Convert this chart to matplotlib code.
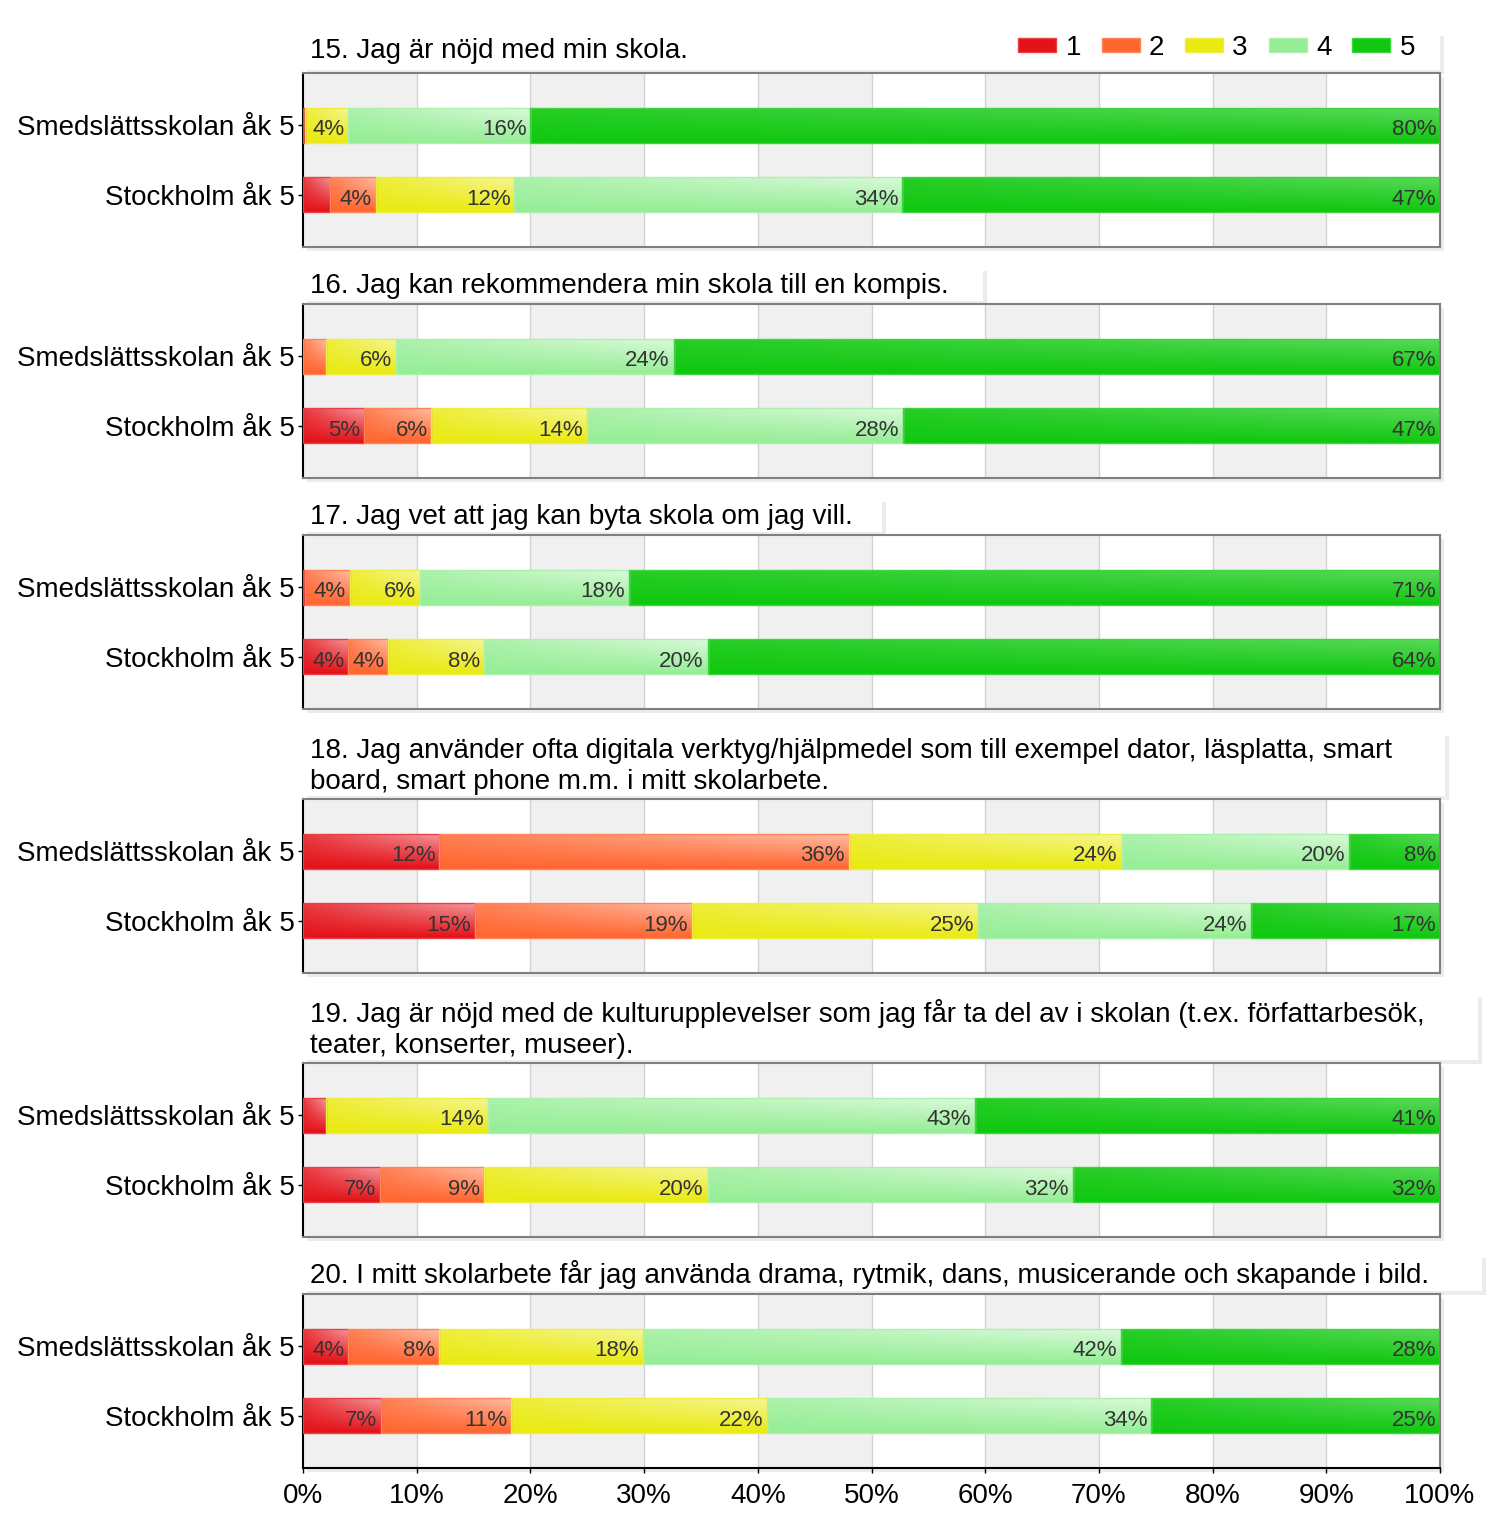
import numpy as np
import matplotlib.pyplot as plt
from matplotlib.patches import Rectangle, Patch
from matplotlib.colors import to_rgb

plt.rcParams['font.family'] = ['Liberation Sans', 'DejaVu Sans']

# data
groups = ['Smedslättsskolan åk 5', 'Stockholm åk 5']
answers = ['1', '2', '3', '4', '5']
titles = [
    '15. Jag är nöjd med min skola.',
    '16. Jag kan rekommendera min skola till en kompis.',
    '17. Jag vet att jag kan byta skola om jag vill.',
    '18. Jag använder ofta digitala verktyg/hjälpmedel som till exempel dator, läsplatta, smart\nboard, smart phone m.m. i mitt skolarbete.',
    '19. Jag är nöjd med de kulturupplevelser som jag får ta del av i skolan (t.ex. författarbesök,\nteater, konserter, museer).',
    '20. I mitt skolarbete får jag använda drama, rytmik, dans, musicerande och skapande i bild.',
]

q15_smed = [0.2, 0.0, 3.8, 16.0, 80.0]
q15_sthlm = [2.4, 4.0, 12.2, 34.1, 47.3]
q16_smed = [0.0, 2.0, 6.2, 24.4, 67.4]
q16_sthlm = [5.4, 5.9, 13.7, 27.8, 47.2]
q17_smed = [0.2, 3.9, 6.2, 18.4, 71.3]
q17_sthlm = [4.0, 3.5, 8.4, 19.7, 64.4]
q18_smed = [12.0, 36.0, 24.0, 20.0, 8.0]
q18_sthlm = [15.1, 19.1, 25.2, 24.0, 16.6]
q19_smed = [2.0, 0.0, 14.3, 42.8, 40.9]
q19_sthlm = [6.8, 9.1, 19.7, 32.1, 32.3]
q20_smed = [4.0, 8.0, 17.9, 42.0, 28.1]
q20_sthlm = [6.9, 11.4, 22.5, 33.8, 25.4]

data = [
    [q15_smed, q15_sthlm],
    [q16_smed, q16_sthlm],
    [q17_smed, q17_sthlm],
    [q18_smed, q18_sthlm],
    [q19_smed, q19_sthlm],
    [q20_smed, q20_sthlm],
]

colors = ['#e41219', '#ff6630', '#eaea12', '#96ee96', '#10c810']
shine = [0.55, 0.55, 0.55, 0.65, 0.3]

W, H = 1500, 1525
fig = plt.figure(figsize=(W / 100, H / 100), dpi=100)

# panel layout in pixels (top edge of each frame)
tops = [73, 304, 535, 799, 1063, 1294]
ax_left, ax_right, ax_h = 303, 1440, 174
box_right = [1440, 983, 882, 1445, 1478, 1482]
title_gap = [9, 5, 5, 4, 4, 5]


def gradient(color, strength, nx=64, ny=16):
    base = np.array(to_rgb(color))
    xf = np.linspace(0, 1, nx)[None, :]
    yf = np.linspace(0, 1, ny)[:, None]
    w = strength * (1 - yf) * (0.3 + 0.7 * xf)
    return base * (1 - w[..., None]) + w[..., None]


def lighten(color, f):
    c = np.array(to_rgb(color))
    return tuple(c * (1 - f) + f)


axes = []
for i, (title, vals) in enumerate(zip(titles, data)):
    top = tops[i]
    rect = [ax_left / W, 1 - (top + ax_h) / H, (ax_right - ax_left) / W, ax_h / H]
    ax = fig.add_axes(rect)
    axes.append(ax)

    # shadow behind frame
    fig.patches.append(Rectangle((rect[0] + 4 / W, rect[1] - 4 / H), rect[2], rect[3],
                                 transform=fig.transFigure, fc='#ececec', ec='none', zorder=-2))

    # background bands and grid
    for b in range(0, 100, 20):
        ax.axvspan(b, b + 10, color='#f0f0f0', zorder=0, lw=0)
    for g in range(10, 100, 10):
        ax.axvline(g, color='#d2d2d2', lw=1, zorder=0.5)

    for row, seg in enumerate(vals):
        left = 0.0
        for k, v in enumerate(seg):
            if v <= 0:
                continue
            ax.imshow(gradient(colors[k], shine[k]), extent=(left, left + v, row + 0.25, row - 0.25),
                      aspect='auto', interpolation='bilinear', zorder=2)
            ax.add_patch(Rectangle((left, row - 0.25), v, 0.5, fill=False,
                                   ec=lighten(colors[k], 0.2), lw=1, zorder=3))
            if v >= 3:
                ax.text(left + v - 0.35, row + 0.07, f'{round(v)}%', ha='right', va='center',
                        fontsize=16, color='#333333', zorder=4)
            left += v

    ax.set_xlim(0, 100)
    ax.set_ylim(1.743, -0.743)
    ax.set_yticks([0, 1])
    ax.set_yticklabels(groups, fontsize=20)
    ax.tick_params(axis='y', length=3.6, width=1, color='black', pad=2.2)
    ax.set_xticks(range(0, 101, 10))
    if i == len(titles) - 1:
        ax.set_xticklabels([f'{t}%' for t in range(0, 101, 10)], fontsize=20)
        ax.tick_params(axis='x', length=3.6, width=1, pad=7)
    else:
        ax.tick_params(axis='x', bottom=False, labelbottom=False)

    for s in ['top', 'right', 'bottom']:
        ax.spines[s].set_color('#7f7f7f')
        ax.spines[s].set_linewidth(1.5)
    ax.spines['left'].set_color('black')
    ax.spines['left'].set_linewidth(1.5)
    if i == len(titles) - 1:
        ax.spines['bottom'].set_color('black')

    ax.text(7 / (ax_right - ax_left), 1 + title_gap[i] / ax_h, title, transform=ax.transAxes,
            ha='left', va='bottom', fontsize=20, color='black', linespacing=1.25)

# title boxes with soft shadow
fig.canvas.draw()
for i, ax in enumerate(axes):
    txt = ax.texts[-1]
    bb = txt.get_window_extent()
    y0 = (H - tops[i]) / H + 3 / H
    y1 = (bb.y1 + 6) / H
    x0 = ax_left / W
    x1 = box_right[i] / W
    fig.patches.append(Rectangle((x0 + 4 / W, y0 - 4 / H), x1 - x0, y1 - y0,
                                 transform=fig.transFigure, fc='#ececec', ec='none', zorder=-2))
    fig.patches.append(Rectangle((x0, y0), x1 - x0, y1 - y0,
                                 transform=fig.transFigure, fc='white', ec='none', zorder=-1))

# legend
handles = [Patch(facecolor=colors[k], edgecolor=lighten(colors[k], 0.2)) for k in range(5)]
axes[0].legend(handles, answers, ncol=5, loc='center right',
               bbox_to_anchor=((1415 - ax_left) / (ax_right - ax_left), 1 + 25 / ax_h),
               frameon=False, fontsize=20, handlelength=1.37, handleheight=0.4,
               handletextpad=0.33, columnspacing=0.75, borderpad=0, borderaxespad=0)

fig.savefig('out.png', dpi=100)
